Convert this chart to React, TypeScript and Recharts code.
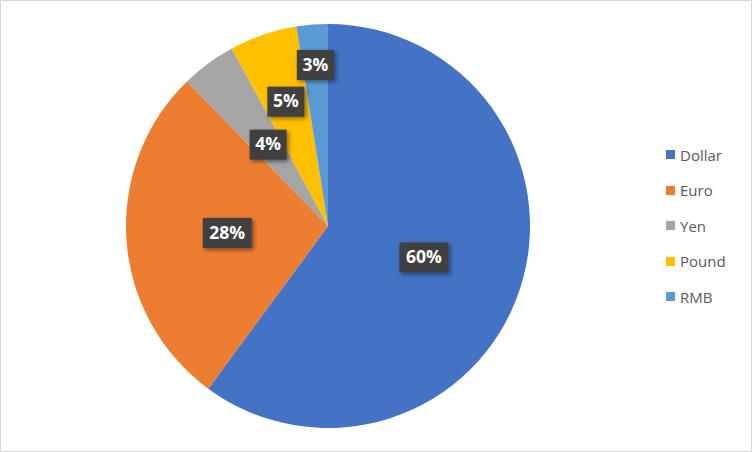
import { PieChart, Pie, Cell, Legend } from 'recharts';

const currencies = ['Dollar', 'Euro', 'Yen', 'Pound', 'RMB'];
const shares = [60.1, 27.6, 4.4, 5.4, 2.5];
const colors = ['#4472C4', '#ED7D31', '#A5A5A5', '#FFC000', '#5B9BD5'];

// how far out (fraction of radius) each data label sits
const labelRadius = [0.5, 0.5, 0.5, 0.65, 0.8];

const RAD = Math.PI / 180;

const data = currencies.map((name, i) => ({ name, value: shares[i] }));

function DataLabel(props: any) {
    const { cx, cy, midAngle, outerRadius, index, percent } = props;
    const r = outerRadius * labelRadius[index];
    const x = cx + r * Math.cos(-midAngle * RAD);
    const y = cy + r * Math.sin(-midAngle * RAD);
    const text = `${Math.round(percent * 100)}%`;
    const w = 13 + 12 * text.length;
    const h = 30;
    return (
        <g>
            <rect
                x={x - w / 2}
                y={y - h / 2}
                width={w}
                height={h}
                fill="#404040"
                filter="url(#labelShadow)"
            />
            <text
                x={x}
                y={y + 1}
                textAnchor="middle"
                dominantBaseline="middle"
                fill="#ffffff"
                fontSize={17.5}
                fontWeight="bold"
                fontFamily="'Open Sans', 'Noto Sans', sans-serif"
            >
                {text}
            </text>
        </g>
    );
}

function LegendBox() {
    return (
        <div style={{ fontFamily: "'Open Sans', 'Noto Sans', sans-serif", fontSize: 15, color: '#595959' }}>
            {currencies.map((name, i) => (
                <div key={name} style={{ display: 'flex', alignItems: 'center', height: 35.5 }}>
                    <span style={{ width: 9, height: 9, background: colors[i], marginRight: 5, display: 'inline-block' }} />
                    <span>{name}</span>
                </div>
            ))}
        </div>
    );
}

export default function App() {
    return (
        <div
            style={{
                position: 'absolute',
                left: 0,
                top: 0,
                width: 752,
                height: 452,
                border: '1px solid #d9d9d9',
                boxSizing: 'border-box',
                background: '#fff',
            }}
        >
            <PieChart
                width={750}
                height={450}
                margin={{ top: 0, right: 0, bottom: 0, left: 0 }}
                style={{ position: 'absolute', left: -1, top: -1 }}
            >
                <defs>
                    <filter id="labelShadow" x="-30%" y="-30%" width="160%" height="160%">
                        <feDropShadow dx="2" dy="2" stdDeviation="2" floodColor="#000" floodOpacity="0.45" />
                    </filter>
                </defs>
                <Pie
                    data={data}
                    dataKey="value"
                    nameKey="name"
                    cx={328}
                    cy={226}
                    outerRadius={202}
                    startAngle={90}
                    endAngle={-270}
                    stroke="none"
                    labelLine={false}
                    label={DataLabel}
                    isAnimationActive={false}
                >
                    {data.map((d, i) => (
                        <Cell key={d.name} fill={colors[i]} />
                    ))}
                </Pie>
                <Legend
                    content={<LegendBox />}
                    wrapperStyle={{ left: 666, top: 137, width: 80 }}
                />
            </PieChart>
        </div>
    );
}
